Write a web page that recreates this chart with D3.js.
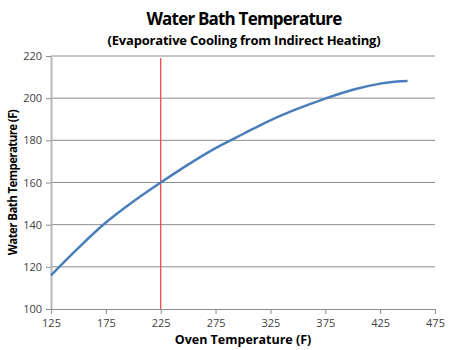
<!DOCTYPE html>
<html>
<head>
<meta charset="utf-8">
<script src="https://cdn.jsdelivr.net/npm/d3@7"></script>
<style>
  body { margin: 0; background: #fff; }
  text { font-family: "Open Sans", "Noto Sans", sans-serif; }
</style>
</head>
<body>
<div id="chart"></div>
<script>
// oven temperature (F) vs water bath temperature (F)
const ovenTemps = [125, 150, 175, 200, 225, 250, 275, 300, 325, 350, 375, 400, 425, 440, 450];
const bathTemps = [116, 129, 141, 151, 160, 168.5, 176.3, 183, 189.5, 195, 199.8, 204, 206.9, 207.9, 208.2];
const markerTemp = 225;
const markerTop = 219;
const xTicks = [125, 175, 225, 275, 325, 375, 425, 475];
const yTicks = [100, 120, 140, 160, 180, 200, 220];

const width = 450, height = 350;
const margin = {top: 56, right: 15, bottom: 41, left: 51};
const w = width - margin.left - margin.right,
      h = height - margin.top - margin.bottom;

const svg = d3.select("#chart")
    .append("svg")
    .attr("width", width)
    .attr("height", height);

const g = svg.append("g")
    .attr("transform", "translate(" + margin.left + "," + margin.top + ")");

const x = d3.scaleLinear().domain([125, 475]).range([0, w]);
const y = d3.scaleLinear().domain([100, 220]).range([h, 0]);

// horizontal gridlines
g.selectAll(".grid")
    .data(yTicks.slice(1))
    .enter()
    .append("line")
    .attr("x1", 0)
    .attr("x2", w)
    .attr("y1", d => y(d))
    .attr("y2", d => y(d))
    .attr("stroke", "#8c8c8c")
    .attr("stroke-width", 1);

// Y axis
const yAxis = g.append("g")
    .call(d3.axisLeft(y).tickValues(yTicks).tickSize(5).tickPadding(4).tickSizeOuter(0));
yAxis.select(".domain").attr("stroke", "#b8b8b8").attr("stroke-width", 2);
yAxis.selectAll(".tick line").attr("stroke", "#8c8c8c");
yAxis.selectAll("text").attr("font-size", 11).attr("fill", "#404040");

// X axis
const xAxis = g.append("g")
    .attr("transform", "translate(0," + h + ")")
    .call(d3.axisBottom(x).tickValues(xTicks).tickSize(5).tickPadding(5).tickSizeOuter(0));
xAxis.select(".domain").attr("stroke", "#8c8c8c");
xAxis.selectAll(".tick line").attr("stroke", "#8c8c8c");
xAxis.selectAll("text").attr("font-size", 11).attr("fill", "#404040");

// vertical marker
g.append("line")
    .attr("x1", x(markerTemp))
    .attr("x2", x(markerTemp))
    .attr("y1", y(markerTop))
    .attr("y2", y(100))
    .attr("stroke", "#f03c3c")
    .attr("stroke-width", 1.2);

// the curve
const data = ovenTemps.map((t, i) => [t, bathTemps[i]]);
g.append("path")
    .datum(data)
    .attr("fill", "none")
    .attr("stroke", "#4a7ebb")
    .attr("stroke-width", 2.5)
    .attr("d", d3.line()
        .curve(d3.curveCatmullRom)
        .x(d => x(d[0]))
        .y(d => y(d[1]))
    );

// titles
svg.append("text")
    .attr("x", 244)
    .attr("y", 25)
    .attr("text-anchor", "middle")
    .attr("font-size", 17)
    .attr("letter-spacing", -0.8)
    .attr("font-weight", "bold")
    .attr("fill", "#000")
    .text("Water Bath Temperature");

svg.append("text")
    .attr("x", 244)
    .attr("y", 45)
    .attr("text-anchor", "middle")
    .attr("font-size", 13)
    .attr("letter-spacing", -0.2)
    .attr("font-weight", "bold")
    .attr("fill", "#000")
    .text("(Evaporative Cooling from Indirect Heating)");

svg.append("text")
    .attr("x", 243)
    .attr("y", 344)
    .attr("text-anchor", "middle")
    .attr("font-size", 12.5)
    .attr("font-weight", "bold")
    .attr("fill", "#000")
    .text("Oven Temperature (F)");

svg.append("text")
    .attr("transform", "translate(17," + (margin.top + h / 2) + ") rotate(-90)")
    .attr("text-anchor", "middle")
    .attr("font-size", 11.5)
    .attr("letter-spacing", -0.6)
    .attr("font-weight", "bold")
    .attr("fill", "#000")
    .text("Water Bath Temperature (F)");
</script>
</body>
</html>
